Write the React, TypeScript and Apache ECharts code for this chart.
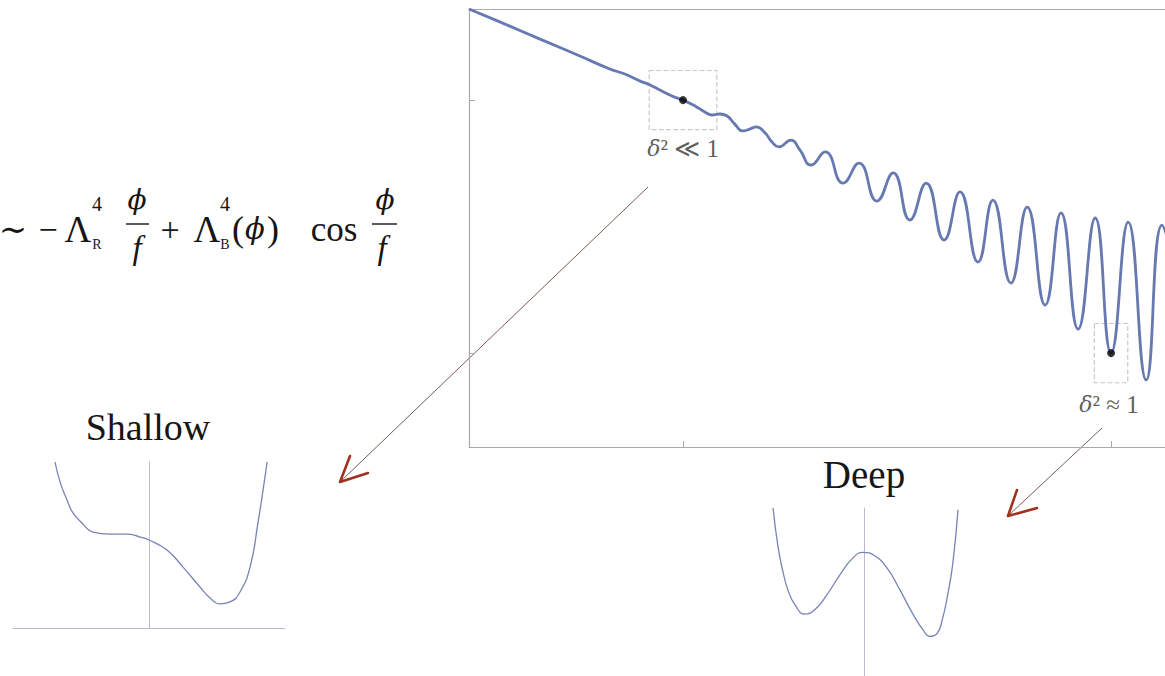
import React, { useEffect, useRef } from "react";
import * as echarts from "echarts";

// Tilted cosine potential: field value phi (in units of f) against V
const potentialPhi = [
  0.5, 0.572, 0.666, 0.759, 0.829, 0.864, 0.9, 0.923, 0.946, 0.974, 1.0, 1.028,
  1.051, 1.068, 1.086, 1.103, 1.121, 1.14, 1.157, 1.171, 1.192, 1.208, 1.224,
  1.252, 1.273, 1.299, 1.332, 1.374, 1.411, 1.453, 1.491, 1.53, 1.568, 1.61,
  1.647, 1.689, 1.724, 1.766, 1.804, 1.846, 1.883, 1.923, 1.963, 2.0, 2.04,
  2.082, 2.119, 2.14,
];
const potentialV = [
  -0.64, -0.691, -0.759, -0.826, -0.877, -0.897, -0.925, -0.94, -0.96, -0.984,
  -1.0, -1.023, -1.047, -1.059, -1.055, -1.063, -1.095, -1.122, -1.114, -1.106,
  -1.13, -1.166, -1.185, -1.158, -1.197, -1.257, -1.205, -1.328, -1.249, -1.399,
  -1.288, -1.474, -1.328, -1.553, -1.363, -1.64, -1.395, -1.723, -1.423, -1.81,
  -1.446, -1.905, -1.466, -2.0, -1.482, -2.106, -1.494, -1.593,
];

// Highlighted field values and the windows drawn around them
const markerPhi = [1, 2];
const markerV = [-1, -2];
const markerLabels = ["{i|δ}{n|² ≪ 1}", "{i|δ}{n|² ≈ 1}"];
const windowHalfPhi = [0.079, 0.039];
const windowHalfV = [0.117, 0.117];

const xTicks = [1, 2];
const yTicks = [-2, -1];

// Local shape of a single well
const shallowX = [
  -0.691, -0.654, -0.603, -0.559, -0.493, -0.412, -0.287, -0.162, -0.066, 0,
  0.132, 0.25, 0.375, 0.449, 0.522, 0.596, 0.669, 0.743, 0.801, 0.853, 0.868,
];
const shallowY = [
  1.0, 0.88, 0.771, 0.693, 0.633, 0.578, 0.566, 0.566, 0.548, 0.53, 0.47, 0.367,
  0.247, 0.181, 0.145, 0.157, 0.217, 0.367, 0.633, 0.91, 1.0,
];
const deepX = [
  -0.669, -0.632, -0.596, -0.559, -0.507, -0.434, -0.36, -0.272, -0.176, -0.081,
  -0.007, 0.081, 0.169, 0.265, 0.36, 0.434, 0.485, 0.537, 0.574, 0.618, 0.654,
  0.691,
];
const deepY = [
  1.0, 0.769, 0.621, 0.511, 0.423, 0.368, 0.396, 0.484, 0.604, 0.703, 0.736,
  0.714, 0.643, 0.511, 0.368, 0.275, 0.236, 0.253, 0.33, 0.495, 0.676, 0.989,
];

const zip = (a: number[], b: number[]) => a.map((v, i) => [v, b[i]]);

const SERIF = '"Liberation Serif", "DejaVu Serif", serif';
const GREEK = '"DejaVu Serif", "Liberation Serif", serif';
const FRAME = "#a9a9a9";
const INK = "#161616";

type Piece = [string, number, number, number, boolean, boolean?];
// text, centre x, middle y, font size, italic, greek face
const equationPieces: Piece[] = [
  ["∼", 13, 229, 34, false],
  ["−", 48, 229, 34, false],
  ["Λ", 78, 229, 37, false],
  ["4", 97, 204, 20, false],
  ["R", 97, 244, 14, false],
  ["ϕ", 137, 199, 28, true, true],
  ["f", 137, 248, 33, true],
  ["+", 170, 229, 34, false],
  ["Λ", 207, 229, 37, false],
  ["4", 225, 204, 20, false],
  ["B", 225, 244, 14, false],
  ["(", 238, 229, 36, false],
  ["ϕ", 255, 229, 29, true, true],
  [")", 273, 229, 36, false],
  ["cos", 334, 229, 35, false],
  ["ϕ", 385, 199, 28, true, true],
  ["f", 382, 248, 33, true],
];
const fractionBars = [
  [126, 149, 224],
  [372, 397, 224],
];

function textEl(text: string, x: number, y: number, size: number, italic: boolean, greek = false) {
  const font = `${italic ? "italic " : ""}${size}px ${greek ? GREEK : SERIF}`;
  return {
    type: "text",
    x,
    y,
    silent: true,
    style: {
      text,
      font,
      fill: INK,
      textAlign: "center",
      textVerticalAlign: "middle",
      align: "center",
      verticalAlign: "middle",
    },
  };
}

function buildOption() {
  const graphics: any[] = [];
  equationPieces.forEach(([t, x, y, s, it, gr]) => graphics.push(textEl(t, x, y, s, it, !!gr)));
  fractionBars.forEach(([x1, x2, y]) =>
    graphics.push({
      type: "line",
      silent: true,
      shape: { x1, y1: y, x2, y2: y },
      style: { stroke: INK, lineWidth: 1.4 },
    })
  );
  graphics.push(textEl("Shallow", 148, 427, 38, false));
  graphics.push(textEl("Deep", 864, 474, 39, false));

  // arrows from the highlighted windows down to the zoomed wells
  const arrows = [
    { from: [648, 187], to: [341, 481], head: [[350, 456], [340, 482], [368, 473]] },
    { from: [1102, 428], to: [1009, 515], head: [[1017, 490], [1008, 516], [1037, 508]] },
  ];
  arrows.forEach((a) => {
    graphics.push({
      type: "line",
      silent: true,
      shape: { x1: a.from[0], y1: a.from[1], x2: a.to[0], y2: a.to[1] },
      style: { stroke: "#7d5a55", lineWidth: 1 },
    });
    graphics.push({
      type: "polyline",
      silent: true,
      shape: { points: a.head },
      style: { stroke: "#a0301f", lineWidth: 2.6, fill: null, lineCap: "round", lineJoin: "round" },
    });
  });

  const hidden = { show: false };
  const rich = {
    i: { fontFamily: GREEK, fontStyle: "italic", fontSize: 22, color: "#333" },
    n: { fontFamily: SERIF, fontSize: 25, color: "#333" },
  };

  return {
    animation: false,
    backgroundColor: "#ffffff",
    grid: [
      { left: 469, top: 9, width: 696, height: 438 },
      { left: 13, top: 462, width: 272, height: 166 },
      { left: 728, top: 508, width: 272, height: 182 },
    ],
    xAxis: [
      {
        gridIndex: 0,
        type: "value",
        min: 0.5,
        max: 2.126,
        axisLine: { onZero: false, lineStyle: { color: FRAME, width: 1.2 } },
        axisTick: { show: true, inside: true, length: 6, customValues: xTicks, lineStyle: { color: FRAME } },
        axisLabel: hidden,
        splitLine: hidden,
      },
      {
        gridIndex: 0,
        type: "value",
        position: "top",
        min: 0.5,
        max: 2.126,
        axisLine: { onZero: false, lineStyle: { color: FRAME, width: 1.2 } },
        axisTick: hidden,
        axisLabel: hidden,
        splitLine: hidden,
      },
      {
        gridIndex: 1,
        type: "value",
        min: -1,
        max: 1,
        axisLine: { onZero: true, lineStyle: { color: "#b9bccd", width: 1 } },
        axisTick: hidden,
        axisLabel: hidden,
        splitLine: hidden,
      },
      {
        gridIndex: 2,
        type: "value",
        min: -1,
        max: 1,
        axisLine: { onZero: true, lineStyle: { color: "#b9bccd", width: 1 } },
        axisTick: hidden,
        axisLabel: hidden,
        splitLine: hidden,
      },
    ],
    yAxis: [
      {
        gridIndex: 0,
        type: "value",
        min: -2.371,
        max: -0.64,
        axisLine: { show: true, onZero: false, lineStyle: { color: FRAME, width: 1.2 } },
        axisTick: { show: true, inside: true, length: 6, customValues: yTicks, lineStyle: { color: FRAME } },
        axisLabel: hidden,
        splitLine: hidden,
      },
      {
        gridIndex: 1,
        type: "value",
        min: 0,
        max: 1,
        axisLine: { show: true, onZero: true, lineStyle: { color: "#b9bccd", width: 1 } },
        axisTick: hidden,
        axisLabel: hidden,
        splitLine: hidden,
      },
      {
        gridIndex: 2,
        type: "value",
        min: 0,
        max: 1,
        axisLine: { show: true, onZero: true, lineStyle: { color: "#b9bccd", width: 1 } },
        axisTick: hidden,
        axisLabel: hidden,
        splitLine: hidden,
      },
    ],
    series: [
      {
        type: "line",
        xAxisIndex: 0,
        yAxisIndex: 0,
        data: zip(potentialPhi, potentialV),
        smooth: true,
        showSymbol: false,
        symbol: "none",
        lineStyle: { color: "#6679b0", width: 2.8 },
        silent: true,
      },
      {
        type: "scatter",
        xAxisIndex: 0,
        yAxisIndex: 0,
        symbolSize: 8,
        itemStyle: { color: "#000" },
        data: markerPhi.map((x, i) => ({
          value: [x, markerV[i]],
          label: {
            show: true,
            position: "inside",
            offset: i === 0 ? [0, 48] : [-2, 51],
            formatter: markerLabels[i],
            rich,
          },
        })),
        markArea: {
          silent: true,
          itemStyle: {
            color: "rgba(0,0,0,0)",
            borderColor: "#c8c8c8",
            borderWidth: 1.2,
            borderType: "dashed",
          },
          data: markerPhi.map((x, i) => [
            { coord: [x - windowHalfPhi[i], markerV[i] + windowHalfV[i]] },
            { coord: [x + windowHalfPhi[i], markerV[i] - windowHalfV[i]] },
          ]),
        },
        z: 5,
      },
      {
        type: "line",
        xAxisIndex: 2,
        yAxisIndex: 1,
        data: zip(shallowX, shallowY),
        smooth: true,
        symbol: "none",
        lineStyle: { color: "#7884b5", width: 1.3 },
        silent: true,
      },
      {
        type: "line",
        xAxisIndex: 3,
        yAxisIndex: 2,
        data: zip(deepX, deepY),
        smooth: true,
        symbol: "none",
        lineStyle: { color: "#7884b5", width: 1.3 },
        silent: true,
      },
    ],
    graphic: graphics,
  };
}

export default function App() {
  const ref = useRef<HTMLDivElement>(null);
  useEffect(() => {
    if (!ref.current) return;
    const chart = echarts.init(ref.current, undefined, { renderer: "svg" });
    chart.setOption(buildOption() as any);
    return () => chart.dispose();
  }, []);
  return (
    <div
      ref={ref}
      style={{ position: "absolute", left: 0, top: 0, width: 1165, height: 676, background: "#fff" }}
    />
  );
}
